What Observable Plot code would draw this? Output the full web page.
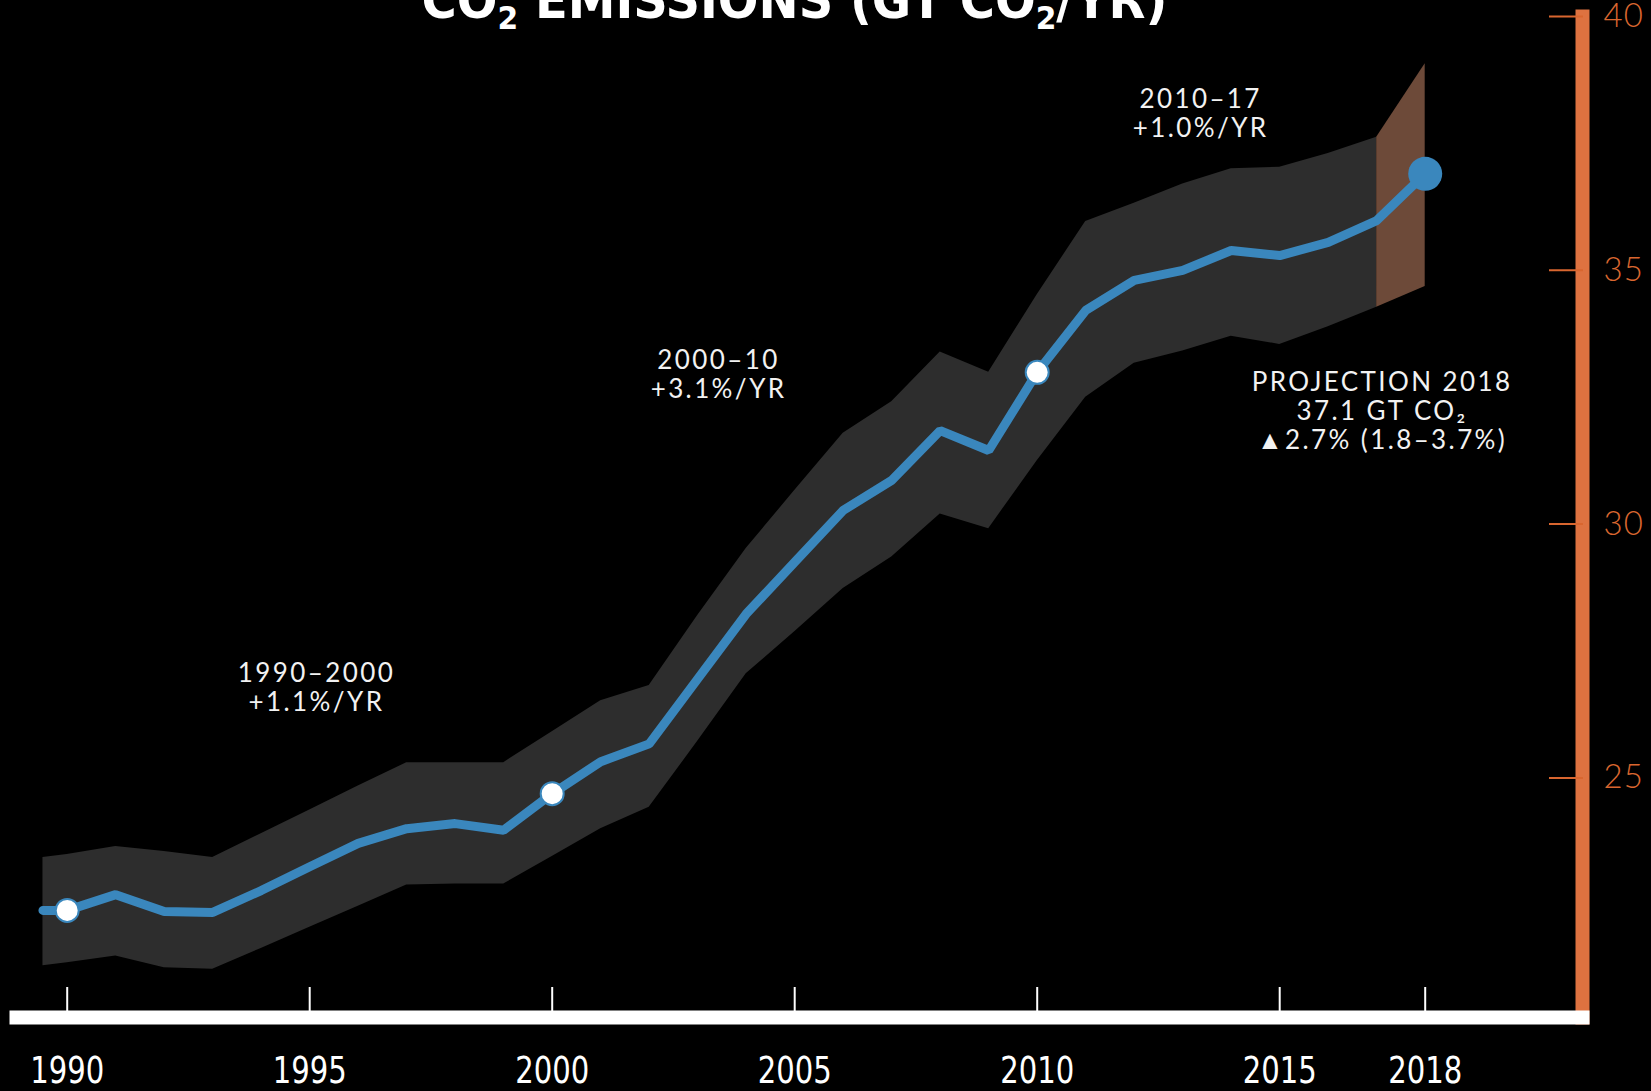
<!DOCTYPE html>
<html>
<head>
<meta charset="utf-8">
<script src="https://cdn.jsdelivr.net/npm/d3@7"></script>
<script src="https://cdn.jsdelivr.net/npm/@observablehq/plot@0.6"></script>
<style>
  html, body { margin: 0; padding: 0; background: #000; overflow: hidden; }
  #chart svg { display: block; }
</style>
</head>
<body>
<div id="chart"></div>
<script>
// ---- Data ----
const title = "CO₂ EMISSIONS (GT CO₂/YR)";

const lineYears = [1989.5, 1990, 1991, 1992, 1993, 1994, 1995, 1996, 1997, 1998, 1999,
  2000, 2001, 2002, 2003, 2004, 2005, 2006, 2007, 2008, 2009,
  2010, 2011, 2012, 2013, 2014, 2015, 2016, 2017, 2018];
const emissions = [22.39, 22.39, 22.70, 22.37, 22.35, 22.78, 23.25, 23.71, 24.00, 24.10, 23.97,
  24.69, 25.32, 25.67, 26.95, 28.23, 29.25, 30.27, 30.86, 31.84, 31.45,
  32.99, 34.21, 34.80, 35.00, 35.39, 35.29, 35.55, 35.98, 36.90];

const bandYears = [1989.5, 1990, 1991, 1992, 1993, 1994, 1995, 1996, 1997, 1998, 1999,
  2000, 2001, 2002, 2003, 2004, 2005, 2006, 2007, 2008, 2009,
  2010, 2011, 2012, 2013, 2014, 2015, 2016, 2017];
const bandHigh = [23.43, 23.49, 23.65, 23.55, 23.43, 23.90, 24.37, 24.84, 25.30, 25.30, 25.30,
  25.91, 26.52, 26.82, 28.20, 29.52, 30.66, 31.79, 32.41, 33.39, 32.99,
  34.52, 35.96, 36.32, 36.70, 37.00, 37.03, 37.30, 37.62];
const bandLow = [21.30, 21.36, 21.49, 21.26, 21.23, 21.64, 22.06, 22.47, 22.89, 22.91, 22.91,
  23.45, 24.00, 24.42, 25.72, 27.05, 27.88, 28.73, 29.35, 30.20, 29.91,
  31.25, 32.50, 33.17, 33.41, 33.70, 33.54, 33.89, 34.27];

const projYears = [2017, 2018];
const projHigh = [37.62, 39.07];
const projLow = [34.27, 34.68];

const markerYears = [1990, 2000, 2010];
const projectionYear = 2018;

const xTicks = [1990, 1995, 2000, 2005, 2010, 2015, 2018];
const yTicks = [25, 30, 35, 40];

const annotationText = [
  "1990–2000\n+1.1%/YR",
  "2000–10\n+3.1%/YR",
  "2010–17\n+1.0%/YR",
  "PROJECTION 2018\n37.1 GT CO₂\n▲2.7% (1.8–3.7%)"
];
const annotationX = [1995.14, 2003.43, 2013.37, 2017.11];
const annotationY = [26.31, 32.48, 37.62, 31.47];

// ---- Build tables ----
const series = lineYears.map((year, i) => ({year, value: emissions[i]}));
const band = bandYears.map((year, i) => ({year, low: bandLow[i], high: bandHigh[i]}));
const proj = projYears.map((year, i) => ({year, low: projLow[i], high: projHigh[i]}));
const markers = series.filter(d => markerYears.includes(d.year));
const projected = series.filter(d => d.year === projectionYear);
const annotations = annotationText.map((text, i) => ({text, x: annotationX[i], y: annotationY[i]}));

const blue = "#3a87bd";
const orange = "#de7240";

const chart = Plot.plot({
  width: 1651,
  height: 1091,
  marginTop: 16,
  marginRight: 69,
  marginBottom: 74,
  marginLeft: 16,
  style: {background: "#000", color: "#fff", overflow: "visible"},
  x: {domain: [1990, 2018], range: [66.7, 1424.7]},
  y: {domain: [25, 40], range: [777.4, 16.0]},
  marks: [
    Plot.areaY(band, {x: "year", y1: "low", y2: "high", fill: "#2d2d2d"}),
    Plot.areaY(proj, {x: "year", y1: "low", y2: "high", fill: "#6d4a39"}),
    Plot.line(series, {x: "year", y: "value", stroke: blue, strokeWidth: 9,
      strokeLinecap: "round", strokeLinejoin: "miter"}),
    Plot.dot(markers, {x: "year", y: "value", r: 11.5, fill: "#fff", stroke: blue, strokeWidth: 2}),
    Plot.dot(projected, {x: "year", y: "value", r: 17, fill: blue}),
    Plot.text(annotations, {x: "x", y: "y", text: "text", lineAnchor: "bottom", textAnchor: "middle",
      fill: "#f2f2f2", fontSize: 26, lineHeight: 1.13, fontFamily: "Lato, 'Open Sans', sans-serif"}),
    Plot.frame({anchor: "right", stroke: orange, strokeWidth: 14, strokeLinecap: "square"}),
    Plot.axisY(yTicks, {anchor: "right", tickSize: -34, tickPadding: 55, color: "#d9662f",
      strokeWidth: 2, fontSize: 33, fontWeight: 300, fontFamily: "Lato, sans-serif", label: null,
      tickFormat: d => `${d}`}),
    Plot.axisX(xTicks, {anchor: "bottom", tickSize: -30, tickPadding: 69, color: "#fff",
      strokeWidth: 2, fontSize: 38, fontFamily: "'DejaVu Sans Condensed', 'DejaVu Sans', sans-serif",
      label: null, tickFormat: d => `${d}`}),
    Plot.frame({anchor: "bottom", stroke: "#fff", strokeWidth: 14, strokeLinecap: "square"}),
    Plot.text([title], {frameAnchor: "top", lineAnchor: "bottom", text: d => d, dx: -5, dy: 1,
      fill: "#fff", fontSize: 52, fontWeight: "bold",
      fontFamily: "'DejaVu Sans Condensed', 'DejaVu Sans', sans-serif"})
  ]
});

// letter spacing for annotations (first text mark)
const textGroups = chart.querySelectorAll('g[aria-label="text"]');
if (textGroups.length) {
  d3.select(textGroups[0]).selectAll("text").attr("letter-spacing", "2.4px");
}
d3.select(chart).selectAll('g[aria-label="y-axis tick label"] text').attr("letter-spacing", "1px");

// condensed year labels
d3.select(chart).selectAll('g[aria-label="x-axis tick label"] text')
  .attr("textLength", 74).attr("lengthAdjust", "spacingAndGlyphs");

// title: real subscripts, condensed width
if (textGroups.length > 1) {
  const t = d3.select(textGroups[textGroups.length - 1]).select("text");
  const parts = title.split("₂");
  t.text(null);
  parts.forEach((p, i) => {
    const span = t.append("tspan").text(p);
    if (i > 0) span.attr("dy", -11);
    if (i < parts.length - 1) {
      t.append("tspan").attr("font-size", "0.62em").attr("dy", 11).text("2");
    }
  });
  t.attr("textLength", 746).attr("lengthAdjust", "spacingAndGlyphs");
}

document.getElementById("chart").appendChild(chart);
</script>
</body>
</html>
